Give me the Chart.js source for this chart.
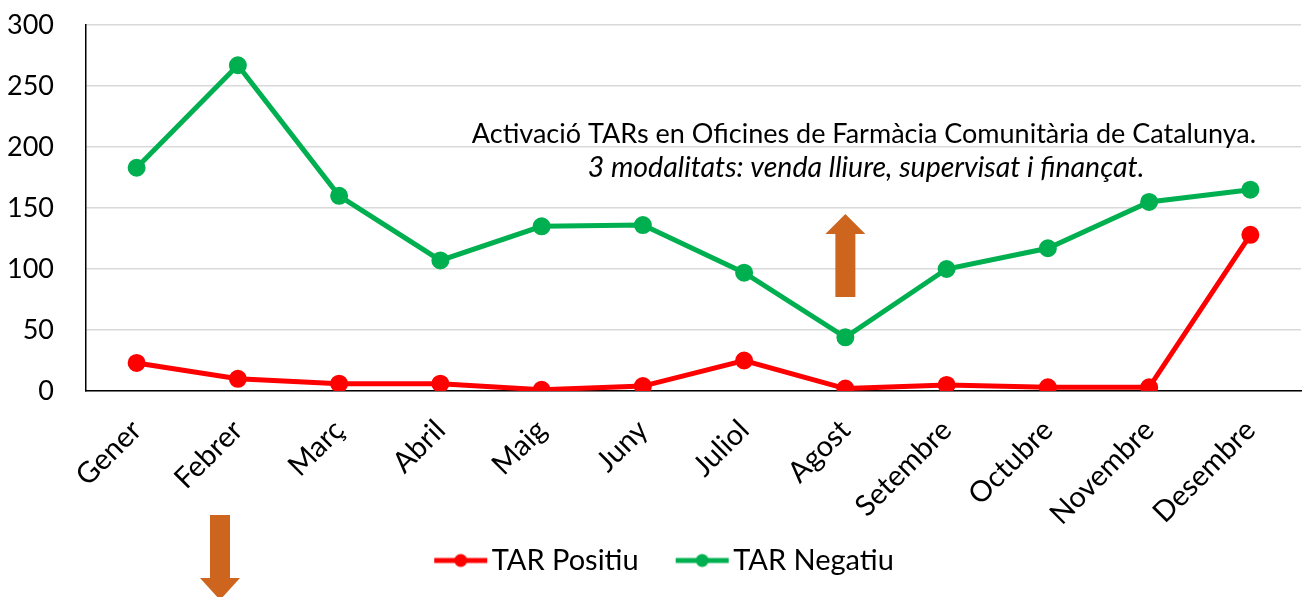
<!DOCTYPE html>
<html>
<head>
<meta charset="utf-8">
<script src="https://cdn.jsdelivr.net/npm/chart.js@4/dist/chart.umd.min.js"></script>
<style>
html, body { margin: 0; padding: 0; background: #fff; }
#wrap { width: 1303px; height: 597px; position: relative; }
</style>
</head>
<body>
<div id="wrap"><canvas id="grafic"></canvas></div>
<script>
// Dades del gràfic
const mesos = ['Gener', 'Febrer', 'Març', 'Abril', 'Maig', 'Juny', 'Juliol', 'Agost', 'Setembre', 'Octubre', 'Novembre', 'Desembre'];
const tarPositiu = [23, 10, 6, 6, 1, 4, 25, 2, 5, 3, 3, 128];
const tarNegatiu = [183, 267, 160, 107, 135, 136, 97, 44, 100, 117, 155, 165];
const ticksY = [0, 50, 100, 150, 200, 250, 300];
const textNota = ['Activació TARs en Oficines de Farmàcia Comunitària de Catalunya.', '3 modalitats: venda lliure, supervisat i finançat.'];

const VERMELL = '#FF0000';
const VERD = '#00B050';
const TARONJA = '#CD651E';
const FONT = 'Lato, "Noto Sans", sans-serif';

// Marca de llegenda: línia amb punt al mig (amb espai buit a l'esquerra)
function marcaLlegenda(color) {
    const c = document.createElement('canvas');
    c.width = 120;
    c.height = 16;
    const x = c.getContext('2d');
    x.strokeStyle = color;
    x.lineWidth = 5;
    x.beginPath();
    x.moveTo(52, 8);
    x.lineTo(105, 8);
    x.stroke();
    x.fillStyle = color;
    x.beginPath();
    x.arc(78.5, 8, 6.5, 0, Math.PI * 2);
    x.fill();
    return c;
}
const marques = [marcaLlegenda(VERMELL), marcaLlegenda(VERD)];

// Fletxa (cap amunt o avall)
function fletxa(ctx, cx, yCap, yCua, ampleCos, ampleCap, llargCap) {
    const dir = yCua > yCap ? 1 : -1;
    const yBase = yCap + dir * llargCap;
    ctx.save();
    ctx.fillStyle = TARONJA;
    ctx.beginPath();
    ctx.moveTo(cx, yCap);
    ctx.lineTo(cx + ampleCap / 2, yBase);
    ctx.lineTo(cx + ampleCos / 2, yBase);
    ctx.lineTo(cx + ampleCos / 2, yCua);
    ctx.lineTo(cx - ampleCos / 2, yCua);
    ctx.lineTo(cx - ampleCos / 2, yBase);
    ctx.lineTo(cx - ampleCap / 2, yBase);
    ctx.closePath();
    ctx.fill();
    ctx.restore();
}

const notesPlugin = {
    id: 'notes',
    afterDraw(chart) {
        const ctx = chart.ctx;
        const x = chart.scales.x;
        const y = chart.scales.y;
        // text de la nota
        ctx.save();
        ctx.fillStyle = '#000';
        ctx.textAlign = 'center';
        ctx.textBaseline = 'middle';
        ctx.font = '27px ' + FONT;
        ctx.fillText(textNota[0], 864, 134);
        ctx.font = 'italic 28.5px ' + FONT;
        ctx.fillText(textNota[1], 866, 168);
        ctx.restore();
        // fletxa amunt sobre Agost
        fletxa(ctx, x.getPixelForValue(7), y.getPixelForValue(145), y.getPixelForValue(77), 20, 40, 20);
        // fletxa avall sota el gràfic
        fletxa(ctx, 220, 600, 515, 20, 40, 22);
    }
};

new Chart(document.getElementById('grafic'), {
    type: 'line',
    data: {
        labels: mesos,
        datasets: [{
            label: 'TAR Positiu',
            data: tarPositiu,
            borderColor: VERMELL,
            backgroundColor: VERMELL,
            borderWidth: 5,
            pointRadius: 6.5,
            pointHoverRadius: 6.5,
            tension: 0
        }, {
            label: 'TAR Negatiu',
            data: tarNegatiu,
            borderColor: VERD,
            backgroundColor: VERD,
            borderWidth: 5,
            pointRadius: 6.5,
            pointHoverRadius: 6.5,
            tension: 0
        }]
    },
    options: {
        responsive: true,
        maintainAspectRatio: false,
        animation: false,
        layout: {
            autoPadding: false,
            padding: { top: 25, right: 2, bottom: 12, left: 0 }
        },
        plugins: {
            legend: {
                position: 'bottom',
                labels: {
                    usePointStyle: true,
                    pointStyleWidth: 70,
                    padding: 10,
                    color: '#000',
                    font: { family: FONT, size: 29 },
                    generateLabels(chart) {
                        const items = Chart.defaults.plugins.legend.labels.generateLabels(chart);
                        items.forEach((it, i) => { it.pointStyle = marques[i]; });
                        return items;
                    }
                }
            },
            tooltip: { enabled: false }
        },
        scales: {
            x: {
                offset: true,
                grid: { display: false, drawTicks: false },
                border: { color: '#000', width: 1.5 },
                ticks: {
                    color: '#000',
                    font: { family: FONT, size: 29 },
                    maxRotation: 45,
                    minRotation: 45,
                    padding: 22,
                    autoSkip: false
                },
                afterFit(scale) {
                    scale.height = 145;
                    scale.paddingLeft = 0;
                    scale.paddingRight = 0;
                }
            },
            y: {
                min: 0,
                max: 300,
                afterBuildTicks(scale) { scale.ticks = ticksY.map(v => ({ value: v })); },
                grid: { color: '#D9D9D9', lineWidth: 1.5, drawTicks: false },
                border: { color: '#000', width: 1.5 },
                ticks: {
                    color: '#000',
                    font: { family: FONT, size: 27 },
                    padding: 32
                },
                afterFit(scale) {
                    scale.width = 86;
                    scale.paddingTop = 0;
                    scale.paddingBottom = 0;
                }
            }
        }
    },
    plugins: [notesPlugin]
});
</script>
</body>
</html>
